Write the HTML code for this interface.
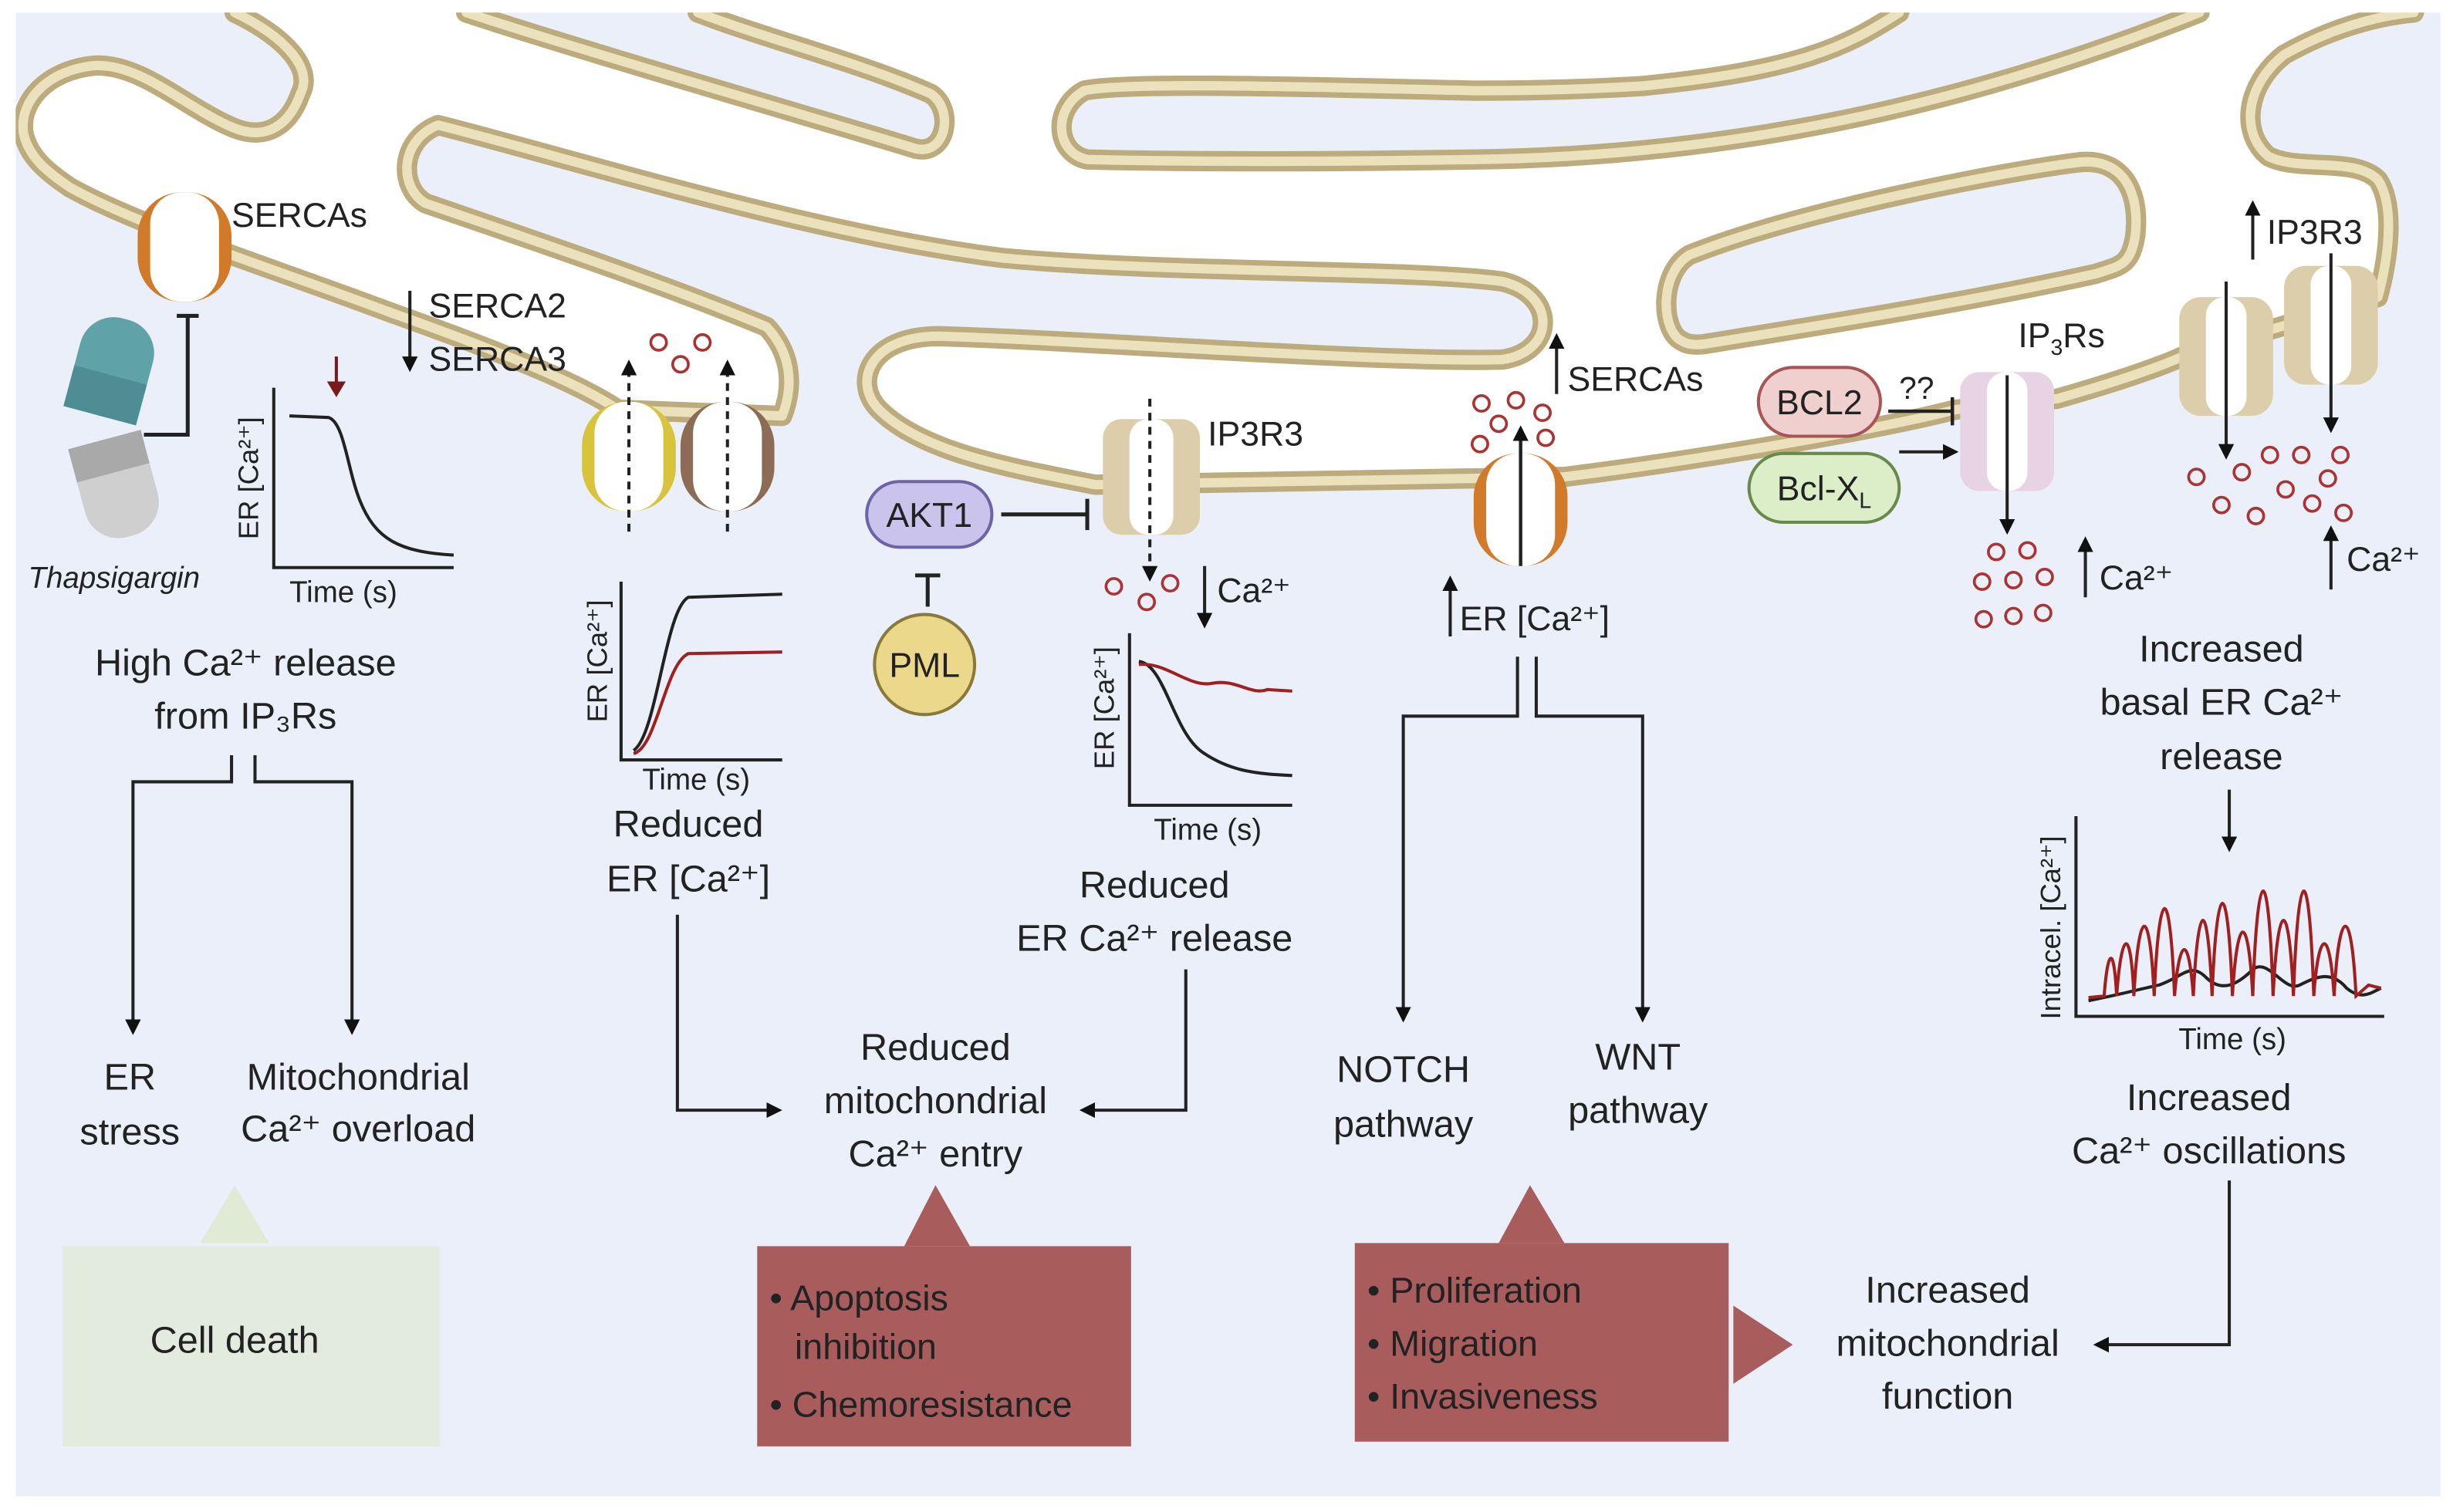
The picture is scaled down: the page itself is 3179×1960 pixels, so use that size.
<!DOCTYPE html>
<html><head><meta charset="utf-8"><style>
html,body{margin:0;padding:0;background:#fff}
svg{display:block}
text{font-family:"Liberation Sans",sans-serif;fill:#222}
</style></head><body>
<svg width="3179" height="1960" viewBox="0 0 1568 967" preserveAspectRatio="none" xmlns="http://www.w3.org/2000/svg">
<defs>
<marker id="ah" markerWidth="10" markerHeight="10" refX="8" refY="5" orient="auto" markerUnits="userSpaceOnUse"><path d="M0,0 L10,5 L0,10 z" fill="#111"/></marker>
<path id="mainM" d="M150,8 C185,25 200,45 192,60 C185,80 170,90 150,82 C120,70 90,40 60,42 C30,45 12,65 15,85 C18,100 30,110 45,120 C90,145 170,170 250,200 C320,225 370,245 395,262 L500,266 C508,245 505,225 490,209 C420,180 330,150 272,130 C255,120 255,90 280,80 C360,100 520,150 641,165 C750,175 900,172 960,180 C995,188 995,225 960,230 C880,232 700,218 600,215 C555,215 545,245 562,262 C590,290 650,300 700,310 L1000,305 C1080,295 1200,275 1250,262 L1315,255 C1350,245 1380,235 1395,228 L1520,190 C1528,160 1530,130 1520,115 C1505,100 1470,110 1450,100 C1432,85 1435,55 1460,35 C1490,18 1520,10 1543,8"/>
<path id="f1" d="M298,8 C380,35 520,75 585,95 C605,100 610,70 595,60 C550,40 490,25 446,8"/>
<path id="f2" d="M1214,8 C1180,30 1150,45 1050,55 C1000,58 960,58 943,58 C850,56 720,52 693,58 C672,70 675,98 695,102 C780,104 880,103 943,102 C1100,100 1250,70 1406,8"/>
<path id="f3" d="M1075,218 C1062,212 1060,175 1080,163 C1150,135 1280,110 1327,104 C1355,100 1368,120 1365,150 C1362,170 1355,170 1340,175 C1250,195 1150,210 1090,220 C1082,221 1078,220 1075,218 Z"/>
</defs>
<rect x="0" y="0" width="1568" height="967" fill="#fff"/>

<!-- cytosol regions -->
<g fill="#eaeff9">
<path d="M10,8 L150,8 C185,25 200,45 192,60 C185,80 170,90 150,82 C120,70 90,40 60,42 C30,45 12,65 15,85 C18,100 30,110 45,120 C90,145 170,170 250,200 C320,225 370,245 395,262 L500,266 C508,245 505,225 490,209 C420,180 330,150 272,130 C255,120 255,90 280,80 C360,100 520,150 641,165 C750,175 900,172 960,180 C995,188 995,225 960,230 C880,232 700,218 600,215 C555,215 545,245 562,262 C590,290 650,300 700,310 L1000,305 C1080,295 1200,275 1250,262 L1315,255 C1350,245 1380,235 1395,228 L1520,190 C1528,160 1530,130 1520,115 C1505,100 1470,110 1450,100 C1432,85 1435,55 1460,35 C1490,18 1520,10 1543,8 L1560,8 L1560,957 L10,957 Z"/>
<path d="M298,8 C380,35 520,75 585,95 C605,100 610,70 595,60 C550,40 490,25 446,8 Z"/>
<path d="M1214,8 C1180,30 1150,45 1050,55 C1000,58 960,58 943,58 C850,56 720,52 693,58 C672,70 675,98 695,102 C780,104 880,103 943,102 C1100,100 1250,70 1406,8 Z"/>
<use href="#f3"/>
</g>

<!-- ER membranes -->
<g fill="none" stroke-linecap="round" stroke-linejoin="round">
<g stroke="#bcab7c" stroke-width="13">
<use href="#mainM"/><use href="#f1"/><use href="#f2"/><use href="#f3"/>
</g>
<g stroke="#ece1bd" stroke-width="6">
<use href="#mainM"/><use href="#f1"/><use href="#f2"/><use href="#f3"/>
</g>
</g>
<rect x="0" y="0" width="1568" height="8" fill="#fff"/>
<rect x="1560" y="0" width="8" height="967" fill="#fff"/>
<rect x="0" y="0" width="10" height="967" fill="#fff"/>
<rect x="0" y="957" width="1568" height="10" fill="#fff"/>

<!-- channels/pumps -->
<g>
<rect x="88" y="123" width="60" height="70" rx="28" fill="#d07a2a"/><rect x="96" y="123" width="44" height="70" rx="20" fill="#fff"/>
<rect x="372" y="257" width="60" height="70" rx="28" fill="#d8c43c"/><rect x="380" y="257" width="44" height="70" rx="20" fill="#fff"/>
<rect x="435" y="257" width="60" height="70" rx="28" fill="#8d6c55"/><rect x="443" y="257" width="44" height="70" rx="20" fill="#fff"/>
<rect x="942" y="290" width="60" height="72" rx="28" fill="#d07a2a"/><rect x="950" y="290" width="44" height="72" rx="20" fill="#fff"/>
<rect x="705" y="268" width="62" height="74" rx="12" fill="#dcceaa"/><rect x="722" y="268" width="28" height="74" rx="12" fill="#fff"/>
<rect x="1253" y="238" width="60" height="76" rx="12" fill="#e7d3e4"/><rect x="1270" y="238" width="26" height="76" rx="12" fill="#fff"/>
<rect x="1393" y="190" width="60" height="76" rx="14" fill="#dcceaa"/><rect x="1410" y="190" width="26" height="76" rx="12" fill="#fff"/>
<rect x="1460" y="170" width="60" height="76" rx="14" fill="#dcceaa"/><rect x="1477" y="170" width="26" height="76" rx="12" fill="#fff"/>
</g>

<!-- thapsigargin -->
<g transform="translate(72,235) rotate(15)"><rect x="-24" y="-32" width="48" height="64" rx="22" fill="#5fa3a8"/><rect x="-24" y="5" width="48" height="27" fill="#4d8d93"/></g>
<g transform="translate(75,312) rotate(-15)"><rect x="-24" y="-32" width="48" height="64" rx="22" fill="#cfcfcf"/><rect x="-24" y="-32" width="48" height="22" fill="#a9a9a9"/></g>
<text x="18" y="376" font-size="19" font-style="italic">Thapsigargin</text>
<g stroke="#222" stroke-width="2.5" fill="none">
<path d="M113,202 L127,202 M120,202 L120,278 L92,278"/>
</g>
<text x="148" y="145" font-size="22">SERCAs</text>

<!-- graph1 -->
<g fill="none" stroke="#222" stroke-width="2">
<path d="M175,248 L175,363 L290,363"/>
<path d="M185,266 L210,267 C220,270 222,300 230,320 C240,345 255,353 290,355"/>
</g>
<path d="M215,228 L215,248" stroke="#7a1a1a" stroke-width="2"/><path d="M209,244 L221,244 L215,254 z" fill="#7a1a1a"/>
<text transform="translate(165,345) rotate(-90)" font-size="18">ER [Ca²⁺]</text>
<text x="185" y="385" font-size="19">Time (s)</text>

<line x1="262" y1="186" x2="262" y2="236" stroke="#222" stroke-width="2" marker-end="url(#ah)"/>
<text x="274" y="203" font-size="22">SERCA2</text>
<text x="274" y="237" font-size="22">SERCA3</text>

<g font-size="24" text-anchor="middle">
<text x="157" y="432">High Ca²⁺ release</text>
<text x="157" y="466">from IP₃Rs</text>
<text x="83" y="697">ER</text><text x="83" y="732">stress</text>
<text x="229" y="697">Mitochondrial</text><text x="229" y="730">Ca²⁺ overload</text>
</g>
<g fill="none" stroke="#222" stroke-width="2">
<path d="M148,483 L148,500 L85,500 L85,660" marker-end="url(#ah)"/>
<path d="M163,483 L163,500 L225,500 L225,660" marker-end="url(#ah)"/>
</g>
<path d="M150,758 L128,795 L172,795 z" fill="#e0ebd6"/>
<rect x="40" y="797" width="241" height="128" fill="#e3eade"/>
<text x="150" y="865" font-size="24" text-anchor="middle">Cell death</text>

<!-- pair pumps arrows -->
<g stroke="#222" stroke-width="2" stroke-dasharray="5,4" fill="none">
<line x1="402" y1="340" x2="402" y2="232" marker-end="url(#ah)"/>
<line x1="465" y1="340" x2="465" y2="232" marker-end="url(#ah)"/>
</g>
<g fill="none" stroke="#a33" stroke-width="1.8">
<circle cx="421" cy="219" r="5"/><circle cx="449" cy="219" r="5"/><circle cx="435" cy="233" r="5"/>
</g>
<g fill="none" stroke="#222" stroke-width="2">
<path d="M397,372 L397,486 L500,486"/>
<path d="M405,480 C420,470 425,390 440,382 L500,380"/>
</g>
<path d="M405,482 C420,478 425,425 440,418 L500,417" fill="none" stroke="#a02020" stroke-width="2"/>
<text transform="translate(388,462) rotate(-90)" font-size="18">ER [Ca²⁺]</text>
<text x="445" y="505" font-size="19" text-anchor="middle">Time (s)</text>
<g font-size="24" text-anchor="middle"><text x="440" y="535">Reduced</text><text x="440" y="570">ER [Ca²⁺]</text></g>
<path d="M433,585 L433,710 L498,710" fill="none" stroke="#222" stroke-width="2" marker-end="url(#ah)"/>

<!-- AKT1 / PML -->
<rect x="554" y="308" width="80" height="42" rx="21" fill="#cac3ec" stroke="#6d64a8" stroke-width="2"/>
<text x="594" y="337" font-size="22" text-anchor="middle">AKT1</text>
<path d="M640,329 L695,329 M695,319 L695,339" stroke="#222" stroke-width="2.5"/>
<path d="M585,368 L601,368 M593,368 L593,388" stroke="#222" stroke-width="2.5"/>
<circle cx="591" cy="425" r="32" fill="#ecd88a" stroke="#8a7a3a" stroke-width="2"/>
<text x="591" y="433" font-size="22" text-anchor="middle">PML</text>

<text x="772" y="285" font-size="22">IP3R3</text>
<line x1="735" y1="255" x2="735" y2="370" stroke="#222" stroke-width="2" stroke-dasharray="5,4" marker-end="url(#ah)"/>
<g fill="none" stroke="#a33" stroke-width="1.8"><circle cx="712" cy="375" r="5"/><circle cx="733" cy="385" r="5"/><circle cx="748" cy="373" r="5"/></g>
<line x1="770" y1="362" x2="770" y2="400" stroke="#222" stroke-width="2" marker-end="url(#ah)"/>
<text x="778" y="385" font-size="22">Ca²⁺</text>
<g fill="none" stroke="#222" stroke-width="2">
<path d="M722,405 L722,515 L826,515"/>
<path d="M728,423 C745,425 750,470 770,482 C785,492 800,495 826,496"/>
</g>
<path d="M728,425 C745,423 760,440 775,437 C790,434 800,445 810,441 L826,442" fill="none" stroke="#a02020" stroke-width="2"/>
<text transform="translate(712,492) rotate(-90)" font-size="18">ER [Ca²⁺]</text>
<text x="772" y="537" font-size="19" text-anchor="middle">Time (s)</text>
<g font-size="24" text-anchor="middle"><text x="738" y="574">Reduced</text><text x="738" y="608">ER Ca²⁺ release</text>
<text x="598" y="678">Reduced</text><text x="598" y="712">mitochondrial</text><text x="598" y="746">Ca²⁺ entry</text></g>
<path d="M758,620 L758,710 L692,710" fill="none" stroke="#222" stroke-width="2" marker-end="url(#ah)"/>

<path d="M598,758 L578,797 L620,797 z" fill="#a85c5c"/>
<rect x="484" y="797" width="239" height="128" fill="#a85c5c"/>
<g font-size="23"><text x="492" y="838">• Apoptosis</text><text x="508" y="869">inhibition</text><text x="492" y="906">• Chemoresistance</text></g>

<!-- SERCA middle -->
<line x1="972" y1="362" x2="972" y2="274" stroke="#222" stroke-width="2.2" marker-end="url(#ah)"/>
<g fill="none" stroke="#a33" stroke-width="1.8"><circle cx="947" cy="258" r="5"/><circle cx="969" cy="256" r="5"/><circle cx="986" cy="264" r="5"/><circle cx="958" cy="271" r="5"/><circle cx="946" cy="284" r="5"/><circle cx="988" cy="280" r="5"/></g>
<line x1="995" y1="252" x2="995" y2="215" stroke="#222" stroke-width="2" marker-end="url(#ah)"/>
<text x="1002" y="250" font-size="22">SERCAs</text>
<line x1="927" y1="407" x2="927" y2="370" stroke="#222" stroke-width="2" marker-end="url(#ah)"/>
<text x="933" y="403" font-size="22">ER [Ca²⁺]</text>
<g fill="none" stroke="#222" stroke-width="2">
<path d="M970,420 L970,458 L897,458 L897,652" marker-end="url(#ah)"/>
<path d="M982,420 L982,458 L1050,458 L1050,652" marker-end="url(#ah)"/>
</g>
<g font-size="24" text-anchor="middle"><text x="897" y="692">NOTCH</text><text x="897" y="727">pathway</text><text x="1047" y="684">WNT</text><text x="1047" y="718">pathway</text>
<text x="1245" y="833">Increased</text><text x="1245" y="867">mitochondrial</text><text x="1245" y="901">function</text></g>
<path d="M978,758 L958,795 L1000,795 z" fill="#a85c5c"/>
<rect x="866" y="795" width="239" height="127" fill="#a85c5c"/>
<g font-size="23"><text x="874" y="833">• Proliferation</text><text x="874" y="867">• Migration</text><text x="874" y="901">• Invasiveness</text></g>
<path d="M1108,835 L1108,885 L1146,860 z" fill="#a85c5c"/>
<path d="M1425,755 L1425,860 L1340,860" fill="none" stroke="#222" stroke-width="2" marker-end="url(#ah)"/>

<!-- BCL2 / BclXL -->
<rect x="1124" y="235" width="78" height="44" rx="22" fill="#f0cfcf" stroke="#a55" stroke-width="2"/>
<text x="1163" y="265" font-size="22" text-anchor="middle">BCL2</text>
<text x="1214" y="255" font-size="20">??</text>
<path d="M1207,263 L1248,263 M1248,254 L1248,272" stroke="#222" stroke-width="2.2"/>
<rect x="1118" y="290" width="96" height="44" rx="22" fill="#dceec8" stroke="#6a8a4a" stroke-width="2"/>
<text x="1166" y="320" font-size="22" text-anchor="middle">Bcl-X<tspan font-size="14" dy="5">L</tspan></text>
<line x1="1214" y1="289" x2="1250" y2="289" stroke="#222" stroke-width="2" marker-end="url(#ah)"/>
<text x="1290" y="222" font-size="22">IP<tspan font-size="14" dy="5">3</tspan><tspan dy="-5">Rs</tspan></text>
<line x1="1283" y1="240" x2="1283" y2="340" stroke="#222" stroke-width="2" marker-end="url(#ah)"/>
<g fill="none" stroke="#a33" stroke-width="1.8"><circle cx="1276" cy="353" r="5"/><circle cx="1296" cy="352" r="5"/><circle cx="1267" cy="372" r="5"/><circle cx="1287" cy="371" r="5"/><circle cx="1307" cy="369" r="5"/><circle cx="1268" cy="396" r="5"/><circle cx="1287" cy="394" r="5"/><circle cx="1306" cy="392" r="5"/></g>
<line x1="1333" y1="382" x2="1333" y2="345" stroke="#222" stroke-width="2" marker-end="url(#ah)"/>
<text x="1342" y="377" font-size="22">Ca²⁺</text>

<line x1="1440" y1="166" x2="1440" y2="130" stroke="#222" stroke-width="2" marker-end="url(#ah)"/>
<text x="1449" y="156" font-size="22">IP3R3</text>
<line x1="1423" y1="180" x2="1423" y2="292" stroke="#222" stroke-width="2" marker-end="url(#ah)"/>
<line x1="1490" y1="162" x2="1490" y2="275" stroke="#222" stroke-width="2" marker-end="url(#ah)"/>
<g fill="none" stroke="#a33" stroke-width="1.8"><circle cx="1404" cy="305" r="5"/><circle cx="1433" cy="302" r="5"/><circle cx="1451" cy="291" r="5"/><circle cx="1471" cy="291" r="5"/><circle cx="1496" cy="291" r="5"/><circle cx="1488" cy="306" r="5"/><circle cx="1461" cy="313" r="5"/><circle cx="1420" cy="323" r="5"/><circle cx="1442" cy="330" r="5"/><circle cx="1478" cy="322" r="5"/><circle cx="1498" cy="328" r="5"/></g>
<line x1="1490" y1="377" x2="1490" y2="338" stroke="#222" stroke-width="2" marker-end="url(#ah)"/>
<text x="1500" y="365" font-size="22">Ca²⁺</text>
<g font-size="24" text-anchor="middle"><text x="1420" y="423">Increased</text><text x="1420" y="457">basal ER Ca²⁺</text><text x="1420" y="492">release</text>
<text x="1412" y="710">Increased</text><text x="1412" y="744">Ca²⁺ oscillations</text></g>
<line x1="1425" y1="505" x2="1425" y2="543" stroke="#222" stroke-width="2" marker-end="url(#ah)"/>
<g fill="none" stroke="#222" stroke-width="2">
<path d="M1327,522 L1327,650 L1524,650"/>
<path d="M1335,640 C1360,635 1370,632 1380,630 C1395,625 1400,615 1410,625 C1420,635 1430,630 1440,620 C1450,612 1460,635 1470,630 C1480,625 1490,620 1500,632 C1510,640 1515,635 1522,632"/>
</g>
<path d="M1335,638 L1345,637 C1347,610 1351,600 1353,637 C1356,595 1362,590 1364,637 C1367,580 1374,575 1377,637 C1380,565 1387,560 1390,637 C1393,600 1399,595 1402,637 C1405,575 1411,570 1414,637 C1417,560 1424,556 1427,637 C1430,585 1437,580 1440,637 C1443,550 1450,545 1453,637 C1456,575 1463,570 1466,637 C1469,550 1476,545 1479,637 C1482,595 1489,590 1492,637 C1495,580 1503,575 1506,637 L1514,630 L1522,632" fill="none" stroke="#a02020" stroke-width="2"/>
<text transform="translate(1317,652) rotate(-90)" font-size="18">Intracel. [Ca²⁺]</text>
<text x="1427" y="671" font-size="19" text-anchor="middle">Time (s)</text>
</svg>
</body></html>
